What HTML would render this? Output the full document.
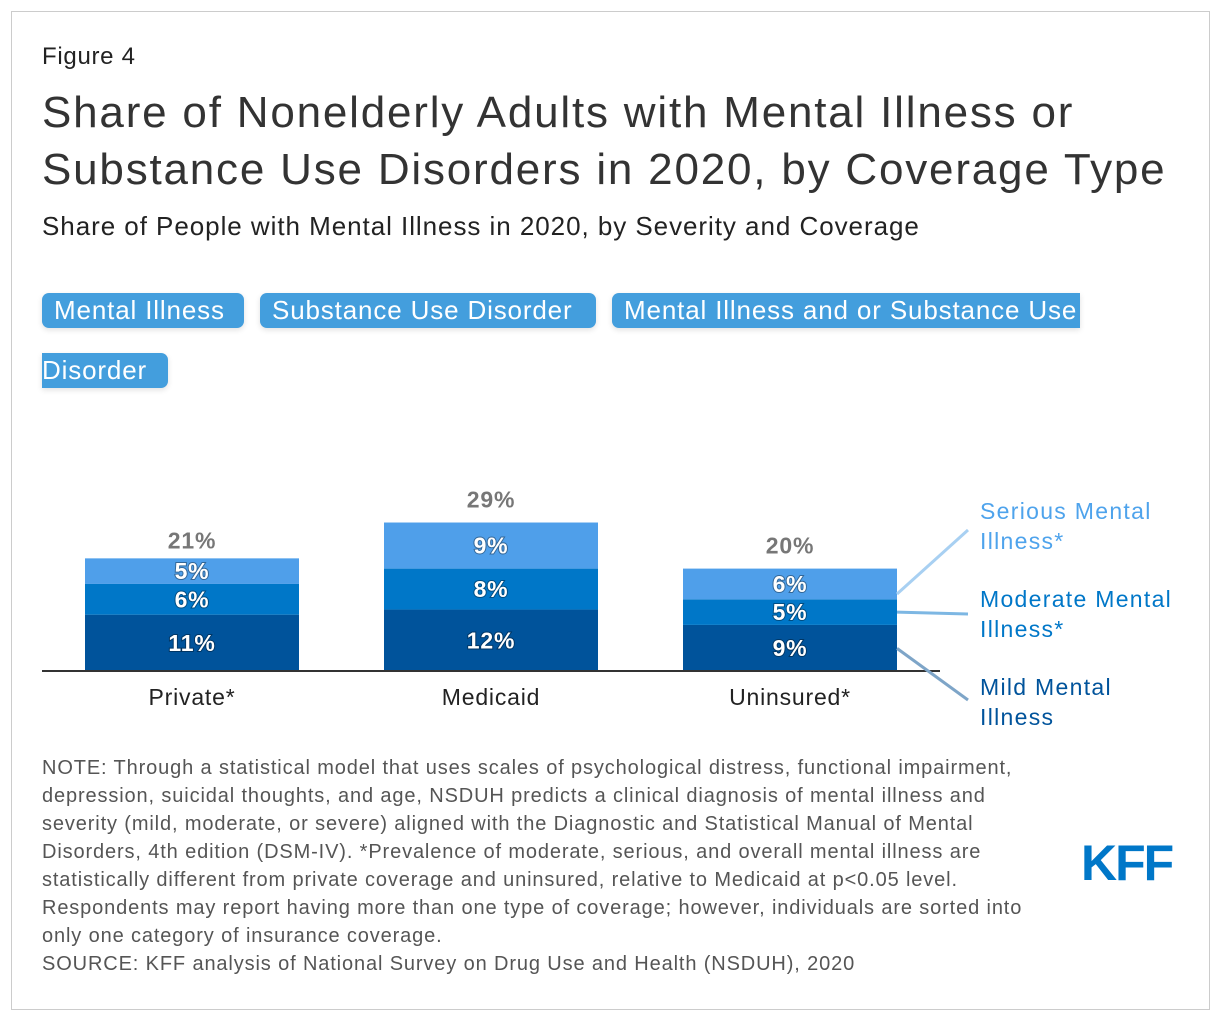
<!DOCTYPE html>
<html><head><meta charset="utf-8"><style>
body{margin:0;width:1220px;height:1020px;background:#fff;font-family:"Liberation Sans",Arial,sans-serif;position:relative;overflow:hidden}
.frame{position:absolute;left:11px;top:11px;width:1197px;height:997px;border:1px solid #ccc}
.abs{position:absolute;margin:0}
.btn{position:absolute;background:#439edd;color:#fff;font-size:26px;height:35px;line-height:35px;border-radius:7px;box-shadow:0 2px 6px rgba(0,0,0,.12);padding:0 12px;box-sizing:border-box;letter-spacing:0.85px;white-space:nowrap}
</style></head><body>
<div class="frame"></div>
<div class="abs" style="left:42px;top:43px;font-size:24px;color:#222;letter-spacing:0.7px">Figure 4</div>
<div class="abs" style="left:42px;top:84px;font-size:44px;line-height:57px;color:#333;letter-spacing:1.8px;white-space:nowrap">Share of Nonelderly Adults with Mental Illness or<br>Substance Use Disorders in 2020, by Coverage Type</div>
<div class="abs" style="left:42px;top:211px;font-size:26px;color:#222;letter-spacing:0.95px;white-space:nowrap">Share of People with Mental Illness in 2020, by Severity and Coverage</div>
<div class="btn" style="left:42px;top:293px;width:202px">Mental Illness</div>
<div class="btn" style="left:260px;top:293px;width:336px">Substance Use Disorder</div>
<div class="btn" style="left:612px;top:293px;width:468px;border-radius:7px 0 0 7px;overflow:hidden">Mental Illness and or Substance Use</div>
<div class="btn" style="left:42px;top:353px;width:126px;padding-left:0;border-radius:0 7px 7px 0">Disorder</div>
<svg class="abs" style="left:0;top:0" width="1220" height="1020" id="chart"></svg>
<div class="abs" style="left:42px;top:754px;font-size:20px;line-height:28px;color:#555;width:1100px;letter-spacing:0.87px;white-space:nowrap">NOTE: Through a statistical model that uses scales of psychological distress, functional impairment,<br>depression, suicidal thoughts, and age, NSDUH predicts a clinical diagnosis of mental illness and<br>severity (mild, moderate, or severe) aligned with the Diagnostic and Statistical Manual of Mental<br>Disorders, 4th edition (DSM-IV). *Prevalence of moderate, serious, and overall mental illness are<br>statistically different from private coverage and uninsured, relative to Medicaid at p&lt;0.05 level.<br>Respondents may report having more than one type of coverage; however, individuals are sorted into<br>only one category of insurance coverage.<br>SOURCE: KFF analysis of National Survey on Drug Use and Health (NSDUH), 2020</div>
<div class="abs" style="left:1081px;top:834px;font-size:50px;font-weight:bold;color:#0077c8;letter-spacing:-2px">KFF</div>
<script>
const categories=["Private*","Medicaid","Uninsured*"];
const mild=[11,12,9];
const moderate=[6,8,5];
const serious=[5,9,6];
const totals=[21,29,20];
const svg=document.getElementById('chart');
const NS='http://www.w3.org/2000/svg';
const base=671,ppu=5.12,bw=214;
const y=v=>base-v*ppu;
const x=i=>85+i*299;
function mk(t,a,txt){const e=document.createElementNS(NS,t);for(const k in a)e.setAttribute(k,a[k]);if(txt!=null)e.textContent=txt;svg.appendChild(e);return e;}
const series=[[mild,'#00539b','mild'],[moderate,'#0077c8','moderate'],[serious,'#4f9fea','serious']];
categories.forEach((c,i)=>{
  let cum=0;
  series.forEach(([arr,col,nm])=>{
    const v=arr[i];
    const r=mk('rect',{x:x(i),y:y(cum+v),width:bw,height:v*ppu,fill:col});
    
    
    const t=mk('text',{x:x(i)+bw/2,y:y(cum+v/2)+8,'text-anchor':'middle','font-size':23,'font-weight':'bold',fill:'#fff','letter-spacing':'0.8',style:'paint-order:stroke;stroke:rgba(0,0,0,.35);stroke-width:2px'},v+'%');
    
    
    cum+=v;
  });
  const tt=mk('text',{x:x(i)+bw/2,y:y(totals[i])-15,'text-anchor':'middle','font-size':23,'font-weight':'bold',fill:'#777','letter-spacing':'0.8'},totals[i]+'%');
  
  
  const cl=mk('text',{x:x(i)+bw/2,y:base+34,'text-anchor':'middle','font-size':23,fill:'#222','letter-spacing':'0.8'},c);
  
  
});
const ax=mk('line',{x1:42,x2:940,y1:base,y2:base,stroke:'#333','stroke-width':2});


const last=categories.length-1,ex=x(last)+bw;
const legs=[['Serious Mental','Illness*','#4ea3ec','#a8d0f2',y(mild[last]+moderate[last]+serious[last]/2)+10,530,511],
 ['Moderate Mental','Illness*','#0077c8','#7db7e3',y(mild[last]+moderate[last]/2),614,599],
 ['Mild Mental','Illness','#00539b','#7ea5c8',y(mild[last]*0.6)+5,700,687]];
legs.forEach(([a,b,col,lc,ly,ey,ty],k)=>{
  const l=mk('line',{x1:ex,y1:ly,x2:968,y2:ey,stroke:lc,'stroke-width':3});
  
  
  const t=mk('text',{x:980,y:ty+8,'font-size':23,fill:col,'letter-spacing':'1.3'});
  
  
  const s1=document.createElementNS(NS,'tspan');s1.setAttribute('x',980);s1.textContent=a;t.appendChild(s1);
  const s2=document.createElementNS(NS,'tspan');s2.setAttribute('x',980);s2.setAttribute('dy',30);s2.textContent=b;t.appendChild(s2);
});
</script>
</body></html>
